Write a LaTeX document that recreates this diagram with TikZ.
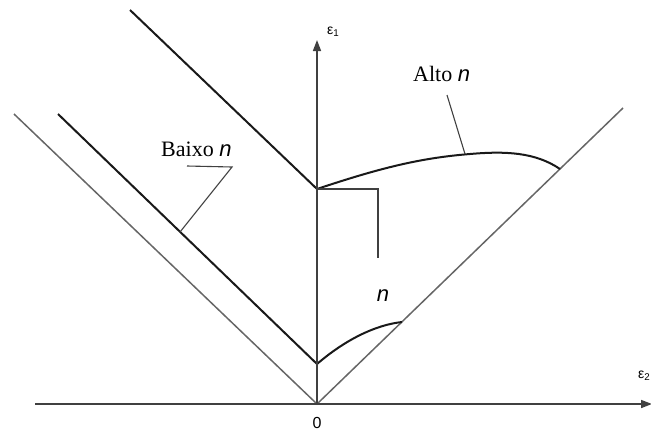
\documentclass[tikz,border=0pt]{standalone}
\usepackage{fontspec}
\setmainfont{Liberation Serif}
\newfontfamily\sansf{Liberation Sans}
\usetikzlibrary{arrows.meta}
\begin{document}
\begin{tikzpicture}[x=1pt,y=-1pt,
  axis/.style={line width=1.6pt,draw=black!75,-{Triangle[length=11pt,width=8pt]}},
  thin line/.style={line width=1.5pt,draw=black!60},
  thick line/.style={line width=2pt,draw=black!90},
  leader/.style={line width=1.1pt,draw=black!75},
  lbl/.style={inner sep=0pt,font=\fontsize{22}{24}\selectfont},
  glbl/.style={inner sep=0pt,font=\sansf\fontsize{14}{16}\selectfont}]
\useasboundingbox (0,0) rectangle (651,432);
% key points
\coordinate (O) at (317,404);
\coordinate (xs) at (35,404);
\coordinate (xe) at (652,404);
\coordinate (ye) at (317,40);
\coordinate (OL) at (14,114);
\coordinate (OR) at (623,108);
\coordinate (IL) at (58,114);
\coordinate (LV) at (317,364);
\coordinate (UL) at (130,10);
\coordinate (UV) at (317,189);
\coordinate (LC) at (402,322);
\coordinate (UC) at (560,169);
% outer V
\draw[thin line] (OL) -- (O) -- (OR);
% inner thick V
\draw[thick line] (IL) -- (LV);
\draw[thick line] (UL) -- (UV);
% curves
\draw[thick line] (LV) .. controls (345,340) and (375,325) .. (LC);
\draw[thick line] (UV) .. controls (380,168) and (420,158) .. (470,154)
   .. controls (505,151) and (535,152) .. (UC);
% axes
\draw[axis] (xs) -- (xe);
\draw[axis] (O) -- (ye);
% labels
\node[glbl,anchor=west] (e1) at (327,32) {ε\textsubscript{1}};
\node[glbl,anchor=west] (e2) at (638,376) {ε\textsubscript{2}};
\node[glbl,font=\sansf\fontsize{16}{18}\selectfont] (zero) at (317,423) {0};
\node[lbl,anchor=base west] (alto) at (413,81) {Alto {\sansf\itshape n}};
\node[lbl,anchor=base west] (baixo) at (161,156) {Baixo {\sansf\itshape n}};
\node[lbl,font=\sansf\itshape\fontsize{22}{24}\selectfont] (nn) at (383,296) {n};
% leaders
\coordinate (a1) at (447,95);
\coordinate (a2) at (465,154);
\draw[leader] (a1) -- (a2);
\coordinate (b1) at (187,166);
\coordinate (b2) at (232,167);
\coordinate (b3) at (180,232);
\draw[leader] (b1) -- (b2) -- (b3);
\coordinate (n1) at (378,189);
\coordinate (n2) at (378,258);
\draw[leader] (UV) -- (n1) -- (n2);
\end{tikzpicture}
\end{document}
